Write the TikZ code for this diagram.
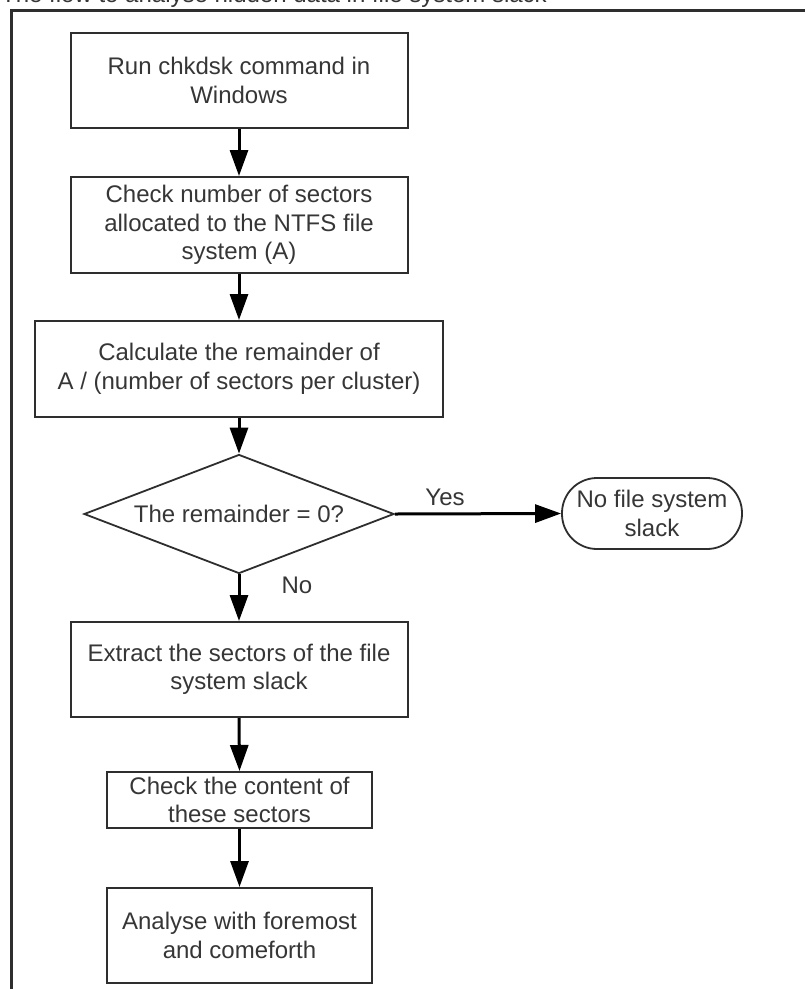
\documentclass[tikz,border=0pt]{standalone}
\usepackage{fontspec}
\setmainfont{Liberation Sans}
\usetikzlibrary{shapes.geometric,arrows.meta}
\definecolor{inkgray}{HTML}{363636}
\definecolor{edgegray}{HTML}{2E2E2E}
\begin{document}
\begin{tikzpicture}[x=1pt,y=-1pt,
  every node/.style={font=\fontsize{24}{28.5}\selectfont, text=inkgray, align=center},
  procbox/.style={draw=edgegray, line width=2pt, rectangle, inner sep=0pt},
  decision/.style={draw=edgegray, line width=1.8pt, diamond, shape aspect=2.6, inner sep=0pt,
                   minimum width=310, minimum height=119},
  endbox/.style={draw=edgegray, line width=1.8pt, rectangle, rounded corners=35pt, inner sep=0pt,
                 minimum width=180, minimum height=71},
  flow/.style={draw=black, line width=3pt, -{Triangle[length=26pt,width=18pt]}},
  lbl/.style={inner sep=0pt}
]
\useasboundingbox (0,0) rectangle (805,989);

% caption line, mostly above the page edge
\node[anchor=base west, inner sep=0pt] (caption) at (1,2) {The flow to analyse hidden data in file system slack};

% outer frame
\draw[edgegray, line width=3pt] (11,10) rectangle (830,1010);

% process steps
\node[procbox, minimum width=337, minimum height=95] (run) at (239,80.5)
  {Run chkdsk command in\\Windows};
\node[procbox, minimum width=337, minimum height=96] (count) at (239,225)
  {Check number of sectors\\allocated to the NTFS file\\system (A)};
\node[procbox, minimum width=408, minimum height=96] (calc) at (239,369)
  {Calculate the remainder of\\A / (number of sectors per cluster)};
\node[decision] (zero) at (239,514) {The remainder = 0?};
\node[endbox] (noslack) at (652,513.5) {No file system\\slack};
\node[procbox, minimum width=337, minimum height=95] (extract) at (239,669.5)
  {Extract the sectors of the file\\system slack};
\node[procbox, minimum width=265, minimum height=56] (content) at (239.5,800)
  {Check the content of\\these sectors};
\node[procbox, minimum width=265, minimum height=95] (analyse) at (239.5,935.5)
  {Analyse with foremost\\and comeforth};

% connectors
\draw[flow] (run.south) -- (count.north);
\draw[flow] (count.south) -- (calc.north);
\draw[flow] (calc.south) -- (zero.north);
\draw[flow] (zero.east) -- (noslack.west);
\draw[flow] (zero.south) -- (extract.north);
\draw[flow] (extract.south) -- (content.north);
\draw[flow] (content.south) -- (analyse.north);

% branch labels
\node[lbl] (yes) at (445,497) {Yes};
\node[lbl] (no) at (297,585) {No};
\end{tikzpicture}
\end{document}
